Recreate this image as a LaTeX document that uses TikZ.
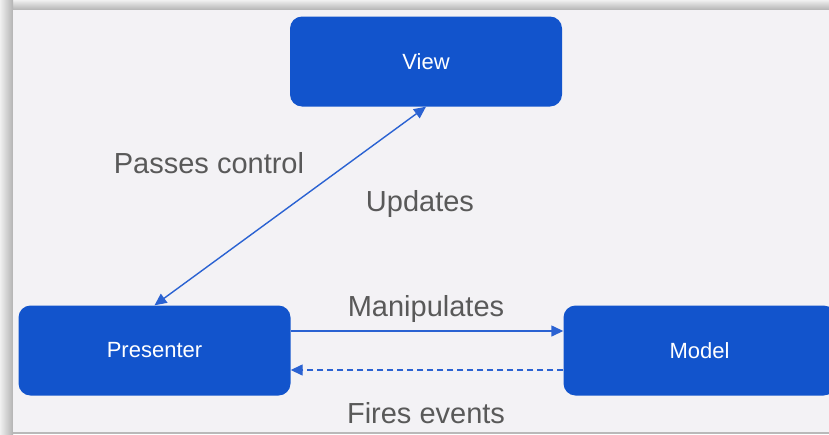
\documentclass[tikz,border=0pt]{standalone}
\usepackage{fontspec}
\setmainfont{Liberation Sans}
\usetikzlibrary{arrows.meta}
\definecolor{boxblue}{HTML}{1254CC}
\definecolor{lineblue}{HTML}{2A62D2}
\definecolor{bgpage}{HTML}{F3F2F5}
\definecolor{labelgray}{HTML}{595959}
\begin{document}
\begin{tikzpicture}[x=1pt,y=-1pt,
  box/.style={fill=boxblue, rounded corners=12pt, minimum width=272pt, minimum height=90pt,
    text=white, font=\fontsize{22}{26}\selectfont, inner sep=0pt},
  lbl/.style={text=labelgray, font=\fontsize{29}{34}\selectfont, inner sep=0pt, anchor=base},
  conn/.style={draw=lineblue, line width=1.4pt},
  tipend/.style={-{Triangle[length=12pt,width=11pt]}},
  tipboth/.style={{Triangle[length=12pt,width=11pt]}-{Triangle[length=12pt,width=11pt]}}
]
\useasboundingbox (0,0) rectangle (829,434);
\clip (0,0) rectangle (829,434);
% page frame and shadow
\fill[white] (0,0) rectangle (829,434);
\shade[top color=gray!12, bottom color=gray!60] (0,0) rectangle (829,10);
\shade[left color=gray!12, right color=gray!60] (0,0) rectangle (13,434);
\fill[bgpage] (13,10) rectangle (829,432);
\fill[gray!55] (13,432) rectangle (829,433.5);
% boxes
\node[box] (view) at (426,61.5) {View};
\node[box] (presenter) at (154.5,350.5) {Presenter};
\node[box] (model) at (699.5,350.5) {Model};
% connectors
\draw[conn,tipboth] (presenter.north) -- (view.south);
\draw[conn,tipend] ([yshift=19.5pt]presenter.east) -- ([yshift=19.5pt]model.west);
\draw[conn,tipend,dash pattern=on 6pt off 4pt] ([yshift=-19.5pt]model.west) -- ([yshift=-19.5pt]presenter.east);
% labels
\node[lbl] (lpass) at (209,173) {Passes control};
\node[lbl] (lupd) at (420,211) {Updates};
\node[lbl] (lman) at (426,316) {Manipulates};
\node[lbl] (lfire) at (426,423) {Fires events};
\end{tikzpicture}
\end{document}
